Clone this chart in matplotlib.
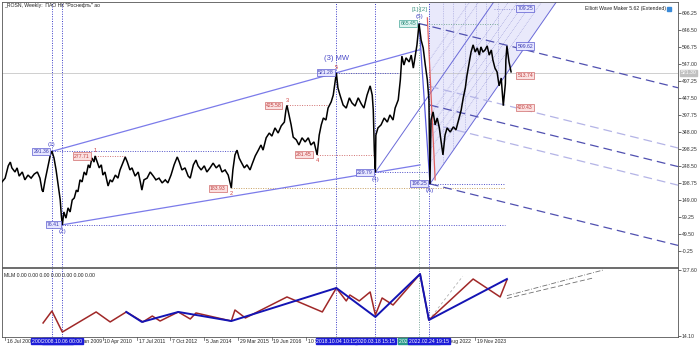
import matplotlib
matplotlib.use("Agg")
import matplotlib.pyplot as plt
import numpy as np
from matplotlib.patches import Polygon

# weekly bar index counted from 16 Jul 2006, close price
price_week = [-6, 0, 6, 10, 13, 19, 23, 27, 33, 38, 44, 50, 56, 62, 67, 71, 73, 77, 83, 87,
              90, 94, 98, 102, 106, 108, 110, 113, 117, 121, 125, 129, 133, 137, 140, 144, 148, 152, 156, 160,
              163, 167, 171, 173, 177, 181, 185, 188, 192, 198, 202, 206, 212, 217, 221, 227, 231, 235, 240, 244,
              250, 256, 260, 263, 267, 273, 279, 285, 290, 296, 302, 308, 313, 319, 325, 331, 335, 340, 346, 352,
              356, 362, 367, 371, 377, 383, 388, 394, 400, 406, 412, 417, 423, 429, 435, 438, 442, 446, 450, 454,
              460, 465, 471, 475, 481, 487, 492, 496, 502, 508, 513, 519, 525, 531, 537, 540, 542, 546, 550, 554,
              560, 565, 571, 577, 583, 588, 594, 600, 604, 608, 612, 617, 621, 627, 631, 637, 640, 644, 650, 656,
              662, 667, 673, 679, 685, 690, 696, 702, 706, 708, 710, 712, 713, 717, 723, 729, 735, 740, 746, 750,
              756, 760, 763, 767, 771, 777, 781, 785, 788, 792, 796, 800, 804, 808, 812, 815, 817, 819, 823, 827,
              831, 835, 838, 842, 846, 850, 856, 862, 867, 873, 877, 881, 885, 888, 892, 896, 900, 904, 908, 912,
              915, 919, 923, 927, 931, 935, 938, 942, 946, 950, 954, 958, 962, 963, 965, 969, 973]
price_value = [202, 213, 249, 260, 243, 231, 243, 219, 231, 208, 222, 213, 225, 231, 213, 178, 173, 208, 252, 281,
               292, 272, 237, 193, 149, 105, 76, 114, 96, 126, 114, 149, 155, 178, 173, 208, 202, 231, 222, 252,
               243, 272, 260, 278, 260, 243, 252, 222, 231, 190, 208, 202, 222, 213, 237, 260, 275, 260, 237, 243,
               219, 231, 202, 178, 208, 213, 231, 219, 208, 213, 199, 208, 199, 222, 252, 275, 260, 237, 243, 219,
               213, 252, 266, 249, 237, 249, 231, 243, 257, 243, 252, 231, 237, 222, 184, 237, 281, 295, 272, 260,
               243, 252, 237, 254, 278, 295, 310, 295, 331, 345, 336, 360, 345, 366, 377, 412, 426, 398, 369, 333,
               325, 310, 331, 319, 331, 310, 319, 281, 339, 369, 389, 383, 418, 436, 456, 521, 477, 456, 427, 418,
               448, 433, 424, 448, 430, 418, 456, 483, 456, 412, 295, 230, 339, 360, 369, 389, 377, 398, 383, 418,
               442, 500, 570, 544, 565, 553, 573, 535, 565, 603, 665, 617, 594, 544, 500, 442, 196, 383, 407, 369,
               389, 360, 325, 281, 339, 360, 348, 363, 354, 389, 412, 448, 477, 512, 547, 582, 603, 582, 594, 573,
               597, 582, 588, 600, 573, 588, 559, 535, 524, 483, 506, 425, 489, 559, 600, 553, 524]
last_price = 521.30

# main Elliott pivots
wave_week = [90, 110, 637, 712, 796, 817]
wave_price = [291.36, 76.41, 521.28, 229.79, 665.45, 196.25]
wave_names = ["(1)", "(2)", "(3) MW", "(4)", "(5)", "(A)"]

# minor pivots (red)
minor_week = [173, 435, 542, 600, 637]
minor_price = [277.71, 183.93, 425.58, 281.45, 521.28]
minor_names = ["1", "2", "3", "4", "5"]

# projection targets on the right
target_price = [709.25, 599.62, 513.74, 420.43]
target_kind = ["blue", "blue", "red", "red"]

# pitchfork levels between (A) and the (5) parallel
fork_levels = [0.0, 0.382, 0.5, 0.618, 1.0]
fork_slope = -0.3775   # price per week
rise_slope = 2.19      # price per week of the rising fan lines

# MLM indicator zigzags
mlm_red_week = [73, 90, 110, 175, 202, 233, 265, 283, 298, 333, 356, 367, 435, 442, 462, 542, 610, 637,
                656, 663, 681, 702, 712, 725, 746, 798, 815, 900, 952, 965]
mlm_red_value = [155, 284, 57, 274, 166, 274, 166, 230, 176, 274, 198, 263, 176, 295, 209, 436, 274, 533,
                 393, 457, 393, 490, 241, 425, 349, 684, 187, 630, 436, 620]
mlm_blue_week = [233, 263, 333, 435, 637, 712, 798, 815, 965]
mlm_blue_value = [274, 166, 274, 176, 533, 220, 684, 187, 630]

tick_week = [0, 130, 188, 254, 317, 383, 448, 513, 579, 837, 904]
tick_text = ["16 Jul 2006", "11 Jan 2009", "10 Apr 2010", "17 Jul 2011", "7 Oct 2012", "5 Jan 2014",
             "29 Mar 2015", "19 Jun 2016", "10 Sep 2017", "28 Aug 2022", "19 Nov 2023"]
price_ticks = [696.25, 646.50, 596.75, 547.00, 497.25, 447.50, 397.75, 348.00,
               298.25, 248.50, 198.75, 149.00, 99.25, 49.50, -0.25]

vline_week = [90, 110, 637, 712, 796, 815]
vline_color = ["#3a3ac8", "#3a3ac8", "#3a3ac8", "#3a3ac8", "#7aa89a", "#3a3ac8"]
vline_text = ["2008.05.19 00:00", "2008.10.06 00:00", "2018.10.04 10:15",
              "2020.03.18 15:15", "2021.10.18 00:00", "2022.02.24 19:15"]
vline_box = ["#1c1cd8", "#1c1cd8", "#1c1cd8", "#1c1cd8", "#2a9a8a", "#1c1cd8"]

W, H = 700, 349
XMIN, XMAX = -6, 1294
FS = 3.7

BLUE = "#7b7bea"
DARK_DASH = "#5050b0"
LIGHT_DASH = "#b4b4e6"

plt.rcParams["font.family"] = ["Liberation Sans", "DejaVu Sans"]
fig = plt.figure(figsize=(W / 100, H / 100), dpi=100)
ax = fig.add_axes([2 / W, 1 - 267 / H, 676 / W, 265 / H])
ax2 = fig.add_axes([2 / W, 1 - 337 / H, 676 / W, 69 / H])

for a in (ax, ax2):
    a.set_xlim(XMIN, XMAX)
    a.set_xticks([])
    a.yaxis.tick_right()
    a.tick_params(axis="y", labelsize=FS, length=2, width=0.5, pad=0.8, colors="#333333")
    for s in a.spines.values():
        s.set_linewidth(0.6)
        s.set_color("#555555")
    for w, c in zip(vline_week, vline_color):
        a.axvline(w, color=c, lw=0.7, ls=(0, (1, 1.5)), zorder=1)

ax.set_ylim(-47, 728.4)
ax.set_yticks(price_ticks)
ax.set_yticklabels([f"{v:.2f}" for v in price_ticks])
ax2.set_ylim(3.3, 749)
ax2.set_yticks([14.10, 727.60])
ax2.set_yticklabels(["14.10", "727.60"])

# current price line
ax.axhline(last_price, color="#c8c8c8", lw=0.6, zorder=1)
ax.text(1.004, last_price, f"{last_price:.2f}", transform=ax.get_yaxis_transform(),
        fontsize=FS, color="white", va="center", ha="left",
        bbox=dict(boxstyle="square,pad=0.15", fc="#c0c0c0", ec="#c0c0c0"), clip_on=False)

# rising fan area from (A)
aw, ap = wave_week[5], wave_price[5]
top = 740
w_top = aw + (top - ap) / rise_slope
poly = Polygon([(aw, ap), (aw - 2, top), (w_top, top)], closed=True,
               fc="#e4e4fa", ec="none", alpha=0.8, zorder=0)
ax.add_patch(poly)
for frac in [0.236, 0.382, 0.5, 0.618, 0.764, 1.236, 1.382]:
    ww = np.array([aw - 40, w_top])
    ln, = ax.plot(ww, ap + frac * 264 + rise_slope * (ww - aw), color="#9a9ad8", lw=0.5,
                  ls=(0, (1, 1.5)), zorder=1)
    ln.set_clip_path(poly)
for w in [842, 862, 885, 905, 925, 948]:
    ln, = ax.plot([w, w], [0, top], color="#9a9ad8", lw=0.5, ls=(0, (1, 1.5)), zorder=1)
    ln.set_clip_path(poly)

# rising solid lines from (4) and (A)
for pw, pp in [(wave_week[3], wave_price[3]), (aw, ap)]:
    ww = np.array([pw, pw + (top - pp) / rise_slope])
    ax.plot(ww, pp + rise_slope * (ww - pw), color="#6a6ad8", lw=0.7, zorder=2)

# descending pitchfork lines
fw5, fp5 = wave_week[4], wave_price[4]
width = (fp5 + fork_slope * (aw - fw5)) - ap
for lv in fork_levels:
    start = fw5 if lv == 1.0 else aw
    ww = np.array([start, XMAX])
    dark = lv in (0.0, 0.5, 1.0)
    ax.plot(ww, ap + lv * width + fork_slope * (ww - aw), color=DARK_DASH if dark else LIGHT_DASH,
            lw=0.9, ls=(0, (7, 4)), zorder=2)

# channel (1)-(3) and (2)-(4)
for i, j in [(0, 2), (1, 3)]:
    s = (wave_price[j] - wave_price[i]) / (wave_week[j] - wave_week[i])
    ww = np.array([wave_week[i], 798])
    ax.plot(ww, wave_price[i] + s * (ww - wave_week[i]), color=BLUE, lw=0.9, zorder=2)

# (5) -> (A) leg and red time line
ax.plot([wave_week[4], aw], [wave_price[4], ap], color="#5a5ae0", lw=0.9, zorder=3)
ax.plot([812, 827], [682, 208], color="#e06060", lw=0.9, zorder=3)

# horizontal dotted levels
hl = [(90, 446, 291.36, "#5050c8"), (110, 962, 76.41, "#5050c8"), (173, 231, 277.71, "#d07070"),
      (435, 962, 183.93, "#c8a060"), (542, 621, 425.58, "#d07070"), (600, 710, 281.45, "#d07070"),
      (637, 756, 521.28, "#5050c8"), (712, 817, 229.79, "#5050c8"), (817, 962, 196.25, "#5050c8"),
      (796, 950, 665.45, "#7aa89a"), (940, 985, 709.25, "#9a9ad8")]
for w0, w1, p, c in hl:
    ax.plot([w0, w1], [p, p], color=c, lw=0.7, ls=(0, (1, 1.5)), zorder=1)

# price
ax.plot(price_week, price_value, color="black", lw=1.1, zorder=4, solid_joinstyle="miter")


def box(a, w, p, text, kind, ha="right", dx=-2):
    styles = {"blue": ("#e6e6ff", "#5a5ad0", "#3a3ab0"),
              "red": ("#fbe0e0", "#d06a6a", "#c04040"),
              "teal": ("#dcf4f0", "#4aa89a", "#2a8a7a")}
    fc, ec, tc = styles[kind]
    a.annotate(text, (w, p), xytext=(dx, 0), textcoords="offset points", fontsize=FS,
               color=tc, ha=ha, va="center", zorder=6,
               bbox=dict(boxstyle="square,pad=0.2", fc=fc, ec=ec, lw=0.5))


for w, p, n in zip(wave_week, wave_price, wave_names):
    kind = "teal" if n == "(5)" else "blue"
    box(ax, w, p, f"{p:.2f}", kind)
    up = n in ("(1)", "(3) MW", "(5)")
    big = n == "(3) MW"
    ax.annotate(n, (w, p), xytext=(0, 8 if big else (3 if up else -3)), textcoords="offset points",
                fontsize=5.5 if big else 4.5, color="#4a4ac8", ha="center",
                va="bottom" if up else "top", zorder=6)
ax.annotate("[1]:[2]", (wave_week[4], wave_price[4]), xytext=(0, 8), textcoords="offset points",
            fontsize=4.5, color="#4a9a8a", ha="center", va="bottom")

for w, p, n in zip(minor_week, minor_price, minor_names):
    if n != "5":
        box(ax, w, p, f"{p:.2f}", "red", dx=-4)
    up = n in ("1", "3", "5")
    ax.annotate(n, (w, p), xytext=(0, 2 if up else -2), textcoords="offset points",
                fontsize=4, color="#d04040", ha="center", va="bottom" if up else "top")

for p, k in zip(target_price, target_kind):
    box(ax, 985, p, f"{p:.2f}", k, ha="left", dx=0)

# MLM sub panel
ax2.plot(mlm_red_week, mlm_red_value, color="#a02828", lw=1.1, zorder=3)
ax2.plot(mlm_blue_week, mlm_blue_value, color="#1414b4", lw=1.4, zorder=4)
ax2.plot([965, 1150], [450, 727], color="#707070", lw=0.6, ls=(0, (6, 2, 1, 2)))
ax2.plot([965, 1130], [420, 640], color="#707070", lw=0.6, ls=(0, (6, 3)))
ax2.plot([815, 880], [187, 660], color="#b0b0b0", lw=0.6, ls=(0, (3, 3)))
ax2.text(0.003, 0.93, "MLM 0.00 0.00 0.00 0.00 0.00 0.00 0.00", transform=ax2.transAxes,
         fontsize=FS, va="top", ha="left", color="#222222")

ax.text(0.003, 0.995, '_ROSN, Weekly:  ПАО НК "Роснефть" ао', transform=ax.transAxes,
        fontsize=FS, va="top", ha="left", color="#222222")
ax.text(0.982, 0.985, "Elliott Wave Maker 5.62 (Extended)", transform=ax.transAxes,
        fontsize=FS, va="top", ha="right", color="#222222")
ax.plot([0.987], [0.975], marker="s", ms=2.5, color="#3a8ad8", transform=ax.transAxes, clip_on=False)

# date axis
for w, t in zip(tick_week, tick_text):
    ax2.plot([w, w], [3.3, -30], color="#555555", lw=0.5, clip_on=False)
    ax2.text(w + 3, -42, t, fontsize=FS, va="center", ha="left", color="#222222", clip_on=False)

for w, t, c in zip(vline_week, vline_text, vline_box):
    ax2.text(w, -42, t, fontsize=FS, va="center", ha="center", color="white", clip_on=False,
             bbox=dict(boxstyle="square,pad=0.15", fc=c, ec=c), zorder=7)

fig.savefig("out.png", dpi=100, facecolor="white")
